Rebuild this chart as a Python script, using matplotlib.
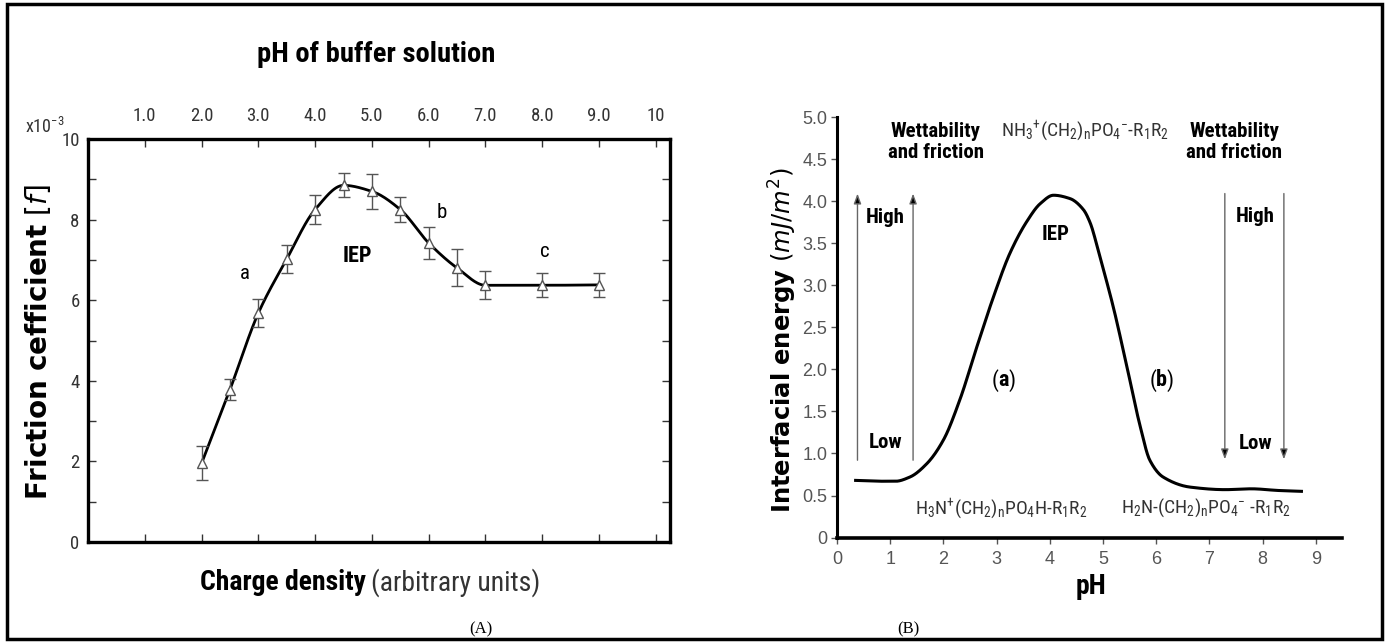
import matplotlib
matplotlib.use("Agg")
import matplotlib.pyplot as plt
import numpy as np
from matplotlib.patches import Rectangle

plt.rcParams["font.family"] = ["Roboto Condensed", "DejaVu Sans"]
plt.rcParams["mathtext.default"] = "regular"

# --- (A) friction coefficient vs pH of buffer solution ---
ph_buffer = [2.0, 2.5, 3.0, 3.5, 4.0, 4.5, 5.0, 5.5, 6.0, 6.5, 7.0, 8.0, 9.0]
friction = [1.95, 3.78, 5.68, 7.02, 8.25, 8.85, 8.70, 8.25, 7.42, 6.80, 6.37, 6.37, 6.38]
friction_err = [0.42, 0.26, 0.35, 0.35, 0.35, 0.30, 0.43, 0.30, 0.40, 0.46, 0.35, 0.30, 0.30]
top_ticks = [1, 2, 3, 4, 5, 6, 7, 8, 9, 10]
top_labels = ["1.0", "2.0", "3.0", "4.0", "5.0", "6.0", "7.0", "8.0", "9.0", "10"]

# --- (B) interfacial energy vs pH (traced curve) ---
ph_curve = [0.35, 0.80, 1.10, 1.37, 1.69, 2.00, 2.31, 2.63, 2.94, 3.25, 3.57, 3.82, 4.07,
            4.38, 4.63, 4.76, 4.94, 5.19, 5.45, 5.70, 5.88, 6.13, 6.64, 7.30, 7.79, 8.30, 8.73]
energy = [0.68, 0.67, 0.67, 0.72, 0.88, 1.16, 1.64, 2.27, 2.86, 3.38, 3.76, 3.97, 4.07,
          4.03, 3.90, 3.74, 3.34, 2.75, 2.03, 1.32, 0.92, 0.72, 0.60, 0.57, 0.58, 0.56, 0.55]
arrows_up_x = [0.385, 1.43]
arrows_down_x = [7.29, 8.40]


def pchip(x, y, xs):
    # monotone cubic, only used to draw a smooth line through the points
    x = np.asarray(x, float)
    y = np.asarray(y, float)
    h = np.diff(x)
    d = np.diff(y) / h
    m = np.zeros_like(y)
    m[0], m[-1] = d[0], d[-1]
    for k in range(1, len(x) - 1):
        if d[k - 1] * d[k] > 0:
            w1 = 2 * h[k] + h[k - 1]
            w2 = h[k] + 2 * h[k - 1]
            m[k] = (w1 + w2) / (w1 / d[k - 1] + w2 / d[k])
    i = np.clip(np.searchsorted(x, xs) - 1, 0, len(x) - 2)
    t = (xs - x[i]) / h[i]
    h00 = 2 * t**3 - 3 * t**2 + 1
    h10 = t**3 - 2 * t**2 + t
    h01 = -2 * t**3 + 3 * t**2
    h11 = t**3 - t**2
    return h00 * y[i] + h10 * h[i] * m[i] + h01 * y[i + 1] + h11 * h[i] * m[i + 1]


fig = plt.figure(figsize=(13.85, 6.43), dpi=100)

# ---------------- panel A ----------------
axA = fig.add_axes([88 / 1385, 1 - 542 / 643, 582 / 1385, 403 / 643])
xs = np.linspace(ph_buffer[0], ph_buffer[-1], 400)
axA.plot(xs, pchip(ph_buffer, friction, xs), color="k", lw=2.0, zorder=2)
axA.errorbar(ph_buffer, friction, yerr=friction_err, fmt="^", ms=7, mfc="white",
             mec="#555555", mew=1.0, ecolor="#555555", elinewidth=1.0, capsize=4,
             capthick=1.0, zorder=3)
axA.set_xlim(0, 10.25)
axA.set_ylim(0, 10)
for s in axA.spines.values():
    s.set_linewidth(2.4)
axA.set_yticks(range(0, 11))
axA.set_yticklabels([str(v) if v % 2 == 0 else "" for v in range(0, 11)])
axA.set_xticks(top_ticks)
axA.set_xticklabels(top_labels)
axA.tick_params(axis="both", direction="in", length=6, width=1.0, color="#333333",
                labelsize=13.5, labelcolor="#333333")
axA.tick_params(axis="x", top=True, bottom=True, labeltop=True, labelbottom=False, pad=10)
axA.tick_params(axis="y", left=True, right=True, pad=6)

axA.text(2.76, 6.67, "a", fontsize=15, ha="center", va="center")
axA.text(4.74, 7.09, "IEP", fontsize=16, fontweight="bold", ha="center", va="center")
axA.text(6.23, 8.17, "b", fontsize=15, ha="center", va="center")
axA.text(8.04, 7.2, "c", fontsize=15, ha="center", va="center")

fig.text(376 / 1385, 1 - 55 / 643, "pH of buffer solution", fontsize=20.5,
         fontweight="bold", ha="center", va="center")
fig.text(45 / 1385, 1 - 127 / 643, "x10$^{-3}$", fontsize=13, color="#333333",
         ha="center", va="center")
fig.text(38 / 1385, 1 - 342 / 643, r"$\bf{Friction\ cefficient}$ $[\it{f}]$",
         family="DejaVu Sans", fontsize=20, rotation=90, ha="center", va="center")
fig.text(366 / 1385, 1 - 583 / 643, "Charge density", fontsize=20, fontweight="bold",
         ha="right", va="center")
fig.text(371 / 1385, 1 - 583 / 643, "(arbitrary units)", fontsize=20, color="#333333",
         ha="left", va="center")
fig.text(481 / 1385, 1 - 629 / 643, "(A)", family="Liberation Serif", fontsize=12,
         ha="center", va="center")

# ---------------- panel B ----------------
axB = fig.add_axes([837 / 1385, 1 - 537.6 / 643, 505.4 / 1385, 420.6 / 643])
xc = np.linspace(ph_curve[0], ph_curve[-1], 600)
axB.plot(xc, pchip(ph_curve, energy, xc), color="k", lw=2.2)
axB.set_xlim(0, 9.5)
axB.set_ylim(0, 5.0)
axB.spines["top"].set_visible(False)
axB.spines["right"].set_visible(False)
axB.spines["left"].set_linewidth(2.2)
axB.spines["bottom"].set_linewidth(2.6)
axB.set_xticks(range(0, 10))
axB.set_yticks(np.arange(0, 5.01, 0.5))
axB.set_yticklabels(["0"] + ["%.1f" % v for v in np.arange(0.5, 5.01, 0.5)])
axB.tick_params(axis="both", direction="out", length=4, width=1.0, color="#555555",
                labelsize=13, labelcolor="#555555", pad=3)
axB.tick_params(axis="x", pad=6)
for lbl in axB.get_xticklabels() + axB.get_yticklabels():
    lbl.set_family("Liberation Sans")

for x in arrows_up_x:
    axB.annotate("", xy=(x, 4.09), xytext=(x, 0.92),
                 arrowprops=dict(arrowstyle="-|>,head_length=0.6,head_width=0.22",
                                 lw=1.0, ec="#666666", fc="k", shrinkA=0, shrinkB=0))
for x in arrows_down_x:
    axB.annotate("", xy=(x, 0.93), xytext=(x, 4.09),
                 arrowprops=dict(arrowstyle="-|>,head_length=0.6,head_width=0.22",
                                 lw=1.0, ec="#666666", fc="k", shrinkA=0, shrinkB=0))

axB.text(0.90, 3.80, "High", fontsize=15, fontweight="bold", ha="center", va="center")
axB.text(7.87, 3.82, "High", fontsize=15, fontweight="bold", ha="center", va="center")
axB.text(0.92, 1.13, "Low", fontsize=15, fontweight="bold", ha="center", va="center")
axB.text(7.87, 1.12, "Low", fontsize=15, fontweight="bold", ha="center", va="center")
axB.text(1.86, 4.70, "Wettability\nand friction", fontsize=15, fontweight="bold",
         ha="center", va="center", linespacing=1.15)
axB.text(7.47, 4.70, "Wettability\nand friction", fontsize=15, fontweight="bold",
         ha="center", va="center", linespacing=1.15)
axB.text(4.66, 4.84, r"NH$_3$$^{+}$(CH$_2$)$_n$PO$_4$$^{-}$-R$_1$R$_2$", fontsize=14,
         color="#333333", ha="center", va="center")
axB.text(4.10, 3.60, "IEP", fontsize=15, fontweight="bold", ha="center", va="center")
for xl, letter in [(3.13, "a"), (6.10, "b")]:
    axB.text(xl - 0.1, 1.87, "(", fontsize=16, ha="right", va="center")
    axB.text(xl, 1.87, letter, fontsize=16, fontweight="bold", ha="center", va="center")
    axB.text(xl + 0.1, 1.87, ")", fontsize=16, ha="left", va="center")
axB.text(3.08, 0.35, r"H$_3$N$^{+}$(CH$_2$)$_n$PO$_4$H-R$_1$R$_2$", fontsize=14,
         color="#333333", ha="center", va="center")
axB.text(6.94, 0.35, r"H$_2$N-(CH$_2$)$_n$PO$_4$$^{-}$ -R$_1$R$_2$", fontsize=14,
         color="#333333", ha="center", va="center")

fig.text(783 / 1385, 1 - 340 / 643, r"$\bf{Interfacial\ energy}$ $(\it{mJ/m^2})$",
         family="DejaVu Sans", fontsize=17.5, rotation=90, ha="center", va="center")
fig.text(1091 / 1385, 1 - 587 / 643, "pH", fontsize=20, fontweight="bold",
         ha="center", va="center")
fig.text(908 / 1385, 1 - 629 / 643, "(B)", family="Liberation Serif", fontsize=12,
         ha="center", va="center")

# frame round the whole figure
fig.patches.append(Rectangle((7 / 1385, 4 / 643), 1375 / 1385, 635 / 643, fill=False,
                             lw=2.5, ec="k", transform=fig.transFigure))

fig.savefig("out.png", dpi=100)
plt.close(fig)
